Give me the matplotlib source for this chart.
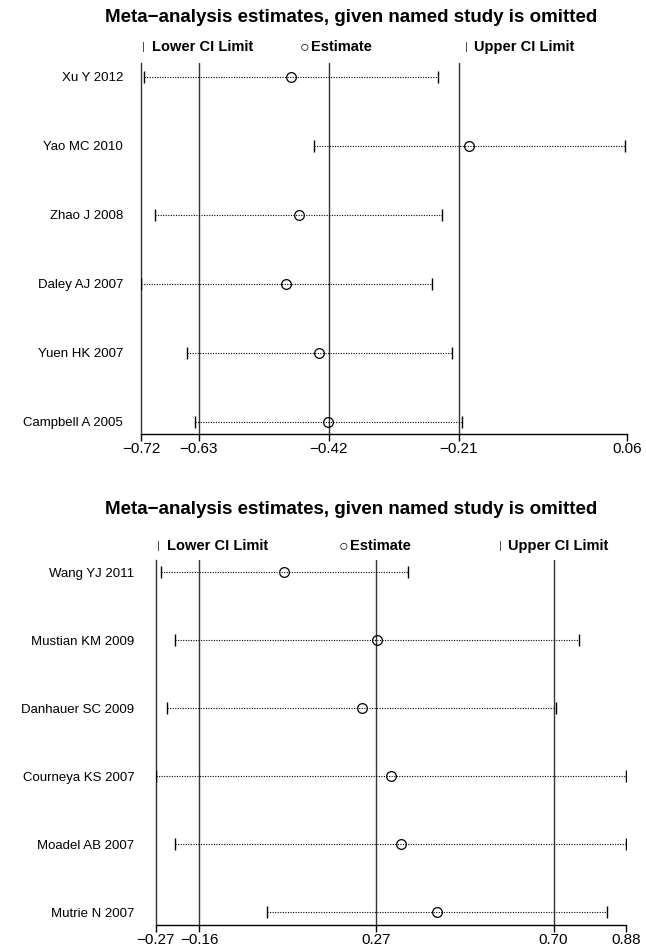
import matplotlib
matplotlib.use("Agg")
import matplotlib.pyplot as plt

plt.rcParams['font.family'] = ['Liberation Sans', 'DejaVu Sans']

# ---- Data: top panel ----
top_studies = ["Xu Y 2012", "Yao MC 2010", "Zhao J 2008", "Daley AJ 2007", "Yuen HK 2007", "Campbell A 2005"]
top_lower = [-0.716, -0.444, -0.699, -0.7215, -0.647, -0.635]
top_est = [-0.480, -0.195, -0.468, -0.489, -0.436, -0.421]
top_upper = [-0.245, 0.056, -0.239, -0.255, -0.222, -0.207]
top_ref = [-0.6285, -0.42, -0.2115]
top_ticks = [-0.7215, -0.6285, -0.42, -0.2115, 0.0585]
top_ticklabels = ["\u22120.72", "\u22120.63", "\u22120.42", "\u22120.21", "0.06"]

# ---- Data: bottom panel ----
bot_studies = ["Wang YJ 2011", "Mustian KM 2009", "Danhauer SC 2009", "Courneya KS 2007", "Moadel AB 2007", "Mutrie N 2007"]
bot_lower = [-0.254, -0.218, -0.238, -0.266, -0.219, 0.005]
bot_est = [0.046, 0.272, 0.234, 0.306, 0.329, 0.416]
bot_upper = [0.347, 0.763, 0.706, 0.876, 0.876, 0.829]
bot_ref = [-0.16, 0.27, 0.70]
bot_ticks = [-0.266, -0.16, 0.27, 0.70, 0.876]
bot_ticklabels = ["\u22120.27", "\u22120.16", "0.27", "0.70", "0.88"]

title = "Meta\u2212analysis estimates, given named study is omitted"

fig = plt.figure(figsize=(6.46, 9.48), dpi=100)


def panel(rect, studies, lower, est, upper, ref, ticks, ticklabels, ylim, ypad):
    ax = fig.add_axes(rect)
    n = len(studies)
    ys = list(range(n, 0, -1))
    for r in ref:
        ax.axvline(r, color='#333333', lw=1.0, zorder=1)
    for y, lo, e, up in zip(ys, lower, est, upper):
        ax.plot([lo, up], [y, y], color='black', lw=0.8, linestyle=(0, (1, 1.3)), zorder=2)
        ax.plot([lo, up], [y, y], linestyle='none', marker='|', markersize=9,
                markeredgewidth=1.0, color='black', zorder=3)
    ax.plot(est, ys, linestyle='none', marker='o', markersize=7, markerfacecolor='none',
            markeredgecolor='black', markeredgewidth=0.9, zorder=4)
    ax.set_xlim(ticks[0], ticks[-1])
    ax.set_ylim(*ylim)
    ax.set_yticks(ys)
    ax.set_yticklabels(studies, fontsize=9.5)
    ax.tick_params(axis='y', length=0, pad=ypad)
    ax.set_xticks(ticks)
    ax.set_xticklabels(ticklabels, fontsize=11)
    ax.tick_params(axis='x', length=5, width=1.0, pad=1)
    for s in ['top', 'right']:
        ax.spines[s].set_visible(False)
    ax.spines['left'].set_color('#333333')
    ax.spines['left'].set_linewidth(1.0)
    ax.spines['bottom'].set_linewidth(1.0)
    return ax


ax1 = panel([141/646, 1-434/948, (627-141)/646, (434-63)/948], top_studies, top_lower, top_est,
            top_upper, top_ref, top_ticks, top_ticklabels, (0.82, 6.2), 13)
ax2 = panel([155.7/646, 1-925/948, (626-155.7)/646, (925-560)/948], bot_studies, bot_lower, bot_est,
            bot_upper, bot_ref, bot_ticks, bot_ticklabels, (0.81, 6.18), 15.5)


def header(ytitle, yleg, xs):
    fig.text(351/646, 1-ytitle/948, title, ha='center', va='center', fontsize=13.5, fontweight='bold')
    bx, cx, ux = xs
    fig.text(bx/646, 1-yleg/948, "|", ha='center', va='center', fontsize=8, color='#333333')
    fig.text((bx+9)/646, 1-yleg/948, "Lower CI Limit", ha='left', va='center', fontsize=10.5, fontweight='bold')
    fig.text(cx/646, 1-yleg/948, "\u25cb", ha='center', va='center', fontsize=11.5)
    fig.text((cx+7)/646, 1-yleg/948, "Estimate", ha='left', va='center', fontsize=10.5, fontweight='bold')
    fig.text(ux/646, 1-yleg/948, "|", ha='center', va='center', fontsize=8, color='#333333')
    fig.text((ux+8)/646, 1-yleg/948, "Upper CI Limit", ha='left', va='center', fontsize=10.5, fontweight='bold')


header(18, 47, (143, 304, 466))
header(510, 546, (158, 343, 500))

fig.savefig("out.png", dpi=100)
